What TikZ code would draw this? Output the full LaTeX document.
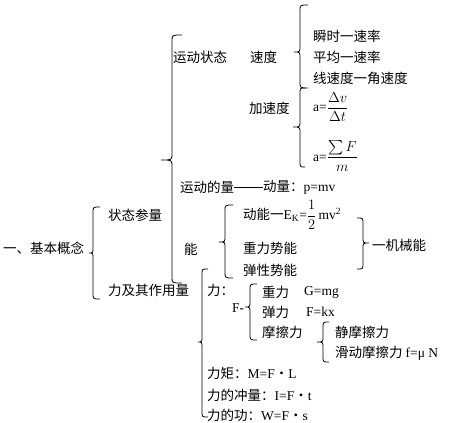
\documentclass[tikz,border=0pt]{standalone}
\usepackage{amsmath}
\usepackage{fontspec}
\setmainfont{Liberation Serif}
\newfontfamily\cjk{Noto Sans CJK SC}
\newfontfamily\tm{Liberation Serif}
% left brace: x, top, tip, bottom, hook width, tip depth
\newcommand\mylbrc[6]{\draw[br] (#1+#5,#2) .. controls (#1,#2) .. (#1,#2+6) -- (#1,#3-6) .. controls (#1,#3) .. (#1-#6,#3) .. controls (#1,#3) .. (#1,#3+6) -- (#1,#4-6) .. controls (#1,#4) .. (#1+#5,#4);}
\newcommand\myrbrc[6]{\draw[br] (#1-#5,#2) .. controls (#1,#2) .. (#1,#2+6) -- (#1,#3-6) .. controls (#1,#3) .. (#1+#6,#3) .. controls (#1,#3) .. (#1,#3+6) -- (#1,#4-6) .. controls (#1,#4) .. (#1-#5,#4);}
\begin{document}
\begin{tikzpicture}[x=1pt,y=-1pt,
  t/.style={anchor=west,inner sep=0pt,font=\cjk\fontsize{13.5}{16}\selectfont},
  br/.style={line width=0.8pt}]
\useasboundingbox (0,0) rectangle (450,423);
\fill[white] (0,0) rectangle (450,423);
% level 1
\node[t] (n1) at (3,248) {一、基本概念};
\mylbrc{93}{207}{253}{299}{7}{4}
\node[t] (zt) at (108,215) {状态参量};
\node[t] (lj) at (108,290) {力及其作用量};
% state parameters
\mylbrc{172}{35}{160}{283}{10}{11}
\node[t] (ydzt) at (173,57) {运动状态};
\node[t] (sd) at (250,57) {速度};
\mylbrc{300}{5}{52}{88}{8}{6}
\node[t] (ss) at (313,36) {瞬时一速率};
\node[t] (pj) at (313,57) {平均一速率};
\node[t] (xs) at (313,78) {线速度一角速度};
\node[t] (jsd) at (249,108) {加速度};
\mylbrc{300}{88}{127}{167}{5}{7}
\node[t] (a1) at (313,107) {{\tm a=}$\displaystyle\frac{\Delta v}{\Delta t}$};
\node[t] (a2) at (313,156) {{\tm a=}$\displaystyle\frac{\sum F}{m}$};
\node[t] (ydl) at (180,187) {运动的量};
\node[t] (dl) at (263,187) {动量：{\tm p=mv}};
\draw[line width=0.9pt] (ydl.east) -- (dl.west);
% energy
\node[t] (neng) at (184,249) {能};
\mylbrc{225}{205}{242}{278}{8}{6}
\node[t] (dn) at (243,215) {动能一{\tm E\textsubscript{K}=}$\displaystyle\frac{1}{2}$\,{\tm mv\textsuperscript{2}}};
\node[t] (zl) at (243,248) {重力势能};
\node[t] (tx) at (243,270) {弹性势能};
\myrbrc{363}{218}{243}{269}{6}{6}
\node[t] (jx) at (372,245) {一机械能};
% force
\mylbrc{202}{269}{342}{417}{6}{4}
\node[t] (li) at (207,290) {力：};
\node[t] (F) at (232,308) {{\tm F-}};
\mylbrc{250}{284}{307}{340}{7}{5}
\node[t] (zl2) at (262,292) {重力};
\node[t] (zl2f) at (304,292) {{\tm G=mg}};
\node[t] (tl) at (262,312) {弹力};
\node[t] (tlf) at (306,312) {{\tm F=kx}};
\node[t] (mc) at (262,332) {摩擦力};
\mylbrc{323}{322}{342}{362}{6}{6}
\node[t] (jm) at (335,332) {静摩擦力};
\node[t] (hd) at (335,353) {滑动摩擦力 {\tm f=μ N}};
\node[t] (lju) at (207,373) {力矩：{\tm M=F}・{\tm L}};
\node[t] (cl) at (207,395) {力的冲量：{\tm I=F}・{\tm t}};
\node[t] (gong) at (207,415) {力的功：{\tm W=F}・{\tm s}};
\end{tikzpicture}
\end{document}
